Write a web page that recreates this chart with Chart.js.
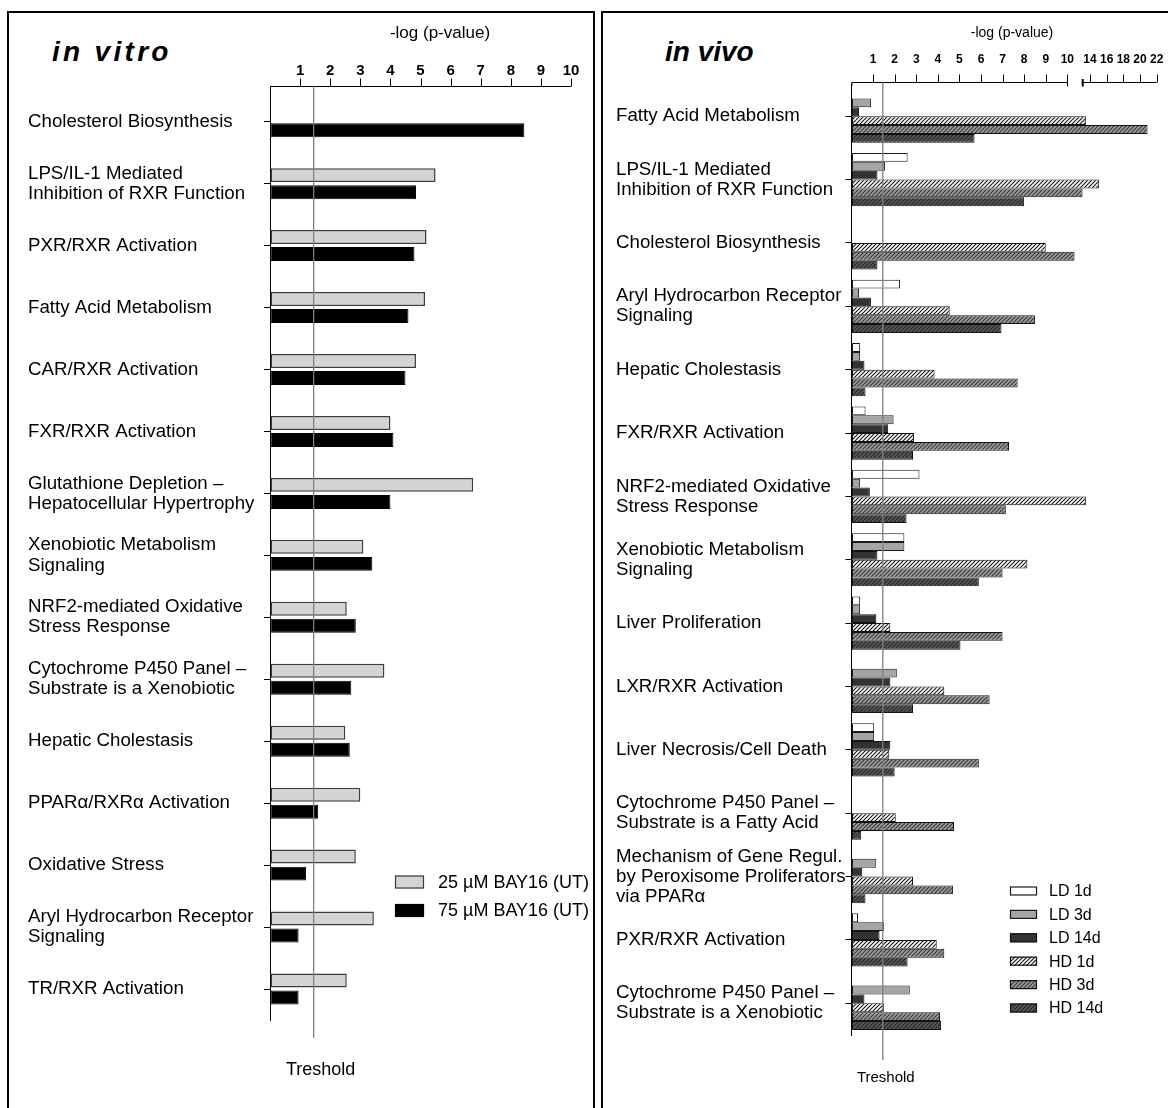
<!DOCTYPE html>
<html>
<head>
<meta charset="utf-8">
<script src="https://cdn.jsdelivr.net/npm/chart.js@4.4.1/dist/chart.umd.min.js"></script>
<style>
  html, body { margin: 0; padding: 0; background: #fff; width: 1168px; height: 1108px; overflow: hidden; }
  body { position: relative; font-family: "Liberation Sans", Arial, sans-serif; }
  .panel { position: absolute; border: 2px solid #000; box-sizing: border-box; }
  #panelVitro { left: 7px; top: 11px; width: 588px; height: 1200px; }
  #panelVivo { left: 601px; top: 11px; width: 600px; height: 1200px; }
  canvas { position: absolute; top: 0; }
  .panel-title { position: absolute; font-weight: bold; font-style: italic; font-size: 28px; line-height: 30px; }
</style>
</head>
<body>
<div class="panel" id="panelVitro"></div>
<div class="panel" id="panelVivo"></div>
<div class="panel-title" style="left:52px; top:37px; letter-spacing:3.3px;">in vitro</div>
<div class="panel-title" style="left:665px; top:37px;">in vivo</div>
<canvas id="chartVitro" width="600" height="1108" style="left:0px"></canvas>
<canvas id="chartVivo" width="568" height="1108" style="left:600px"></canvas>

<script>
// ---- in vitro data ----
const VITRO_PATHWAYS = [
  'Cholesterol Biosynthesis',
  ['LPS/IL-1 Mediated', 'Inhibition of RXR Function'],
  'PXR/RXR Activation',
  'Fatty Acid Metabolism',
  'CAR/RXR Activation',
  'FXR/RXR Activation',
  ['Glutathione Depletion –', 'Hepatocellular Hypertrophy'],
  ['Xenobiotic Metabolism', 'Signaling'],
  ['NRF2-mediated Oxidative', 'Stress Response'],
  ['Cytochrome P450 Panel –', 'Substrate is a Xenobiotic'],
  'Hepatic Cholestasis',
  'PPARα/RXRα Activation',
  'Oxidative Stress',
  ['Aryl Hydrocarbon Receptor', 'Signaling'],
  'TR/RXR Activation'
];
const BAY16_25UM = [0, 5.5, 5.2, 5.15, 4.85, 4.0, 6.75, 3.1, 2.55, 3.8, 2.5, 3.0, 2.85, 3.45, 2.55];
const BAY16_75UM = [8.45, 4.85, 4.8, 4.6, 4.5, 4.1, 4.0, 3.4, 2.85, 2.7, 2.65, 1.6, 1.2, 0.95, 0.95];
const VITRO_TICKS = [0, 1, 2, 3, 4, 5, 6, 7, 8, 9, 10];

// ---- in vivo data ----
const VIVO_PATHWAYS = [
  'Fatty Acid Metabolism',
  ['LPS/IL-1 Mediated', 'Inhibition of RXR Function'],
  'Cholesterol Biosynthesis',
  ['Aryl Hydrocarbon Receptor', 'Signaling'],
  'Hepatic Cholestasis',
  'FXR/RXR Activation',
  ['NRF2-mediated Oxidative', 'Stress Response'],
  ['Xenobiotic Metabolism', 'Signaling'],
  'Liver Proliferation',
  'LXR/RXR Activation',
  'Liver Necrosis/Cell Death',
  ['Cytochrome P450 Panel –', 'Substrate is a Fatty Acid'],
  ['Mechanism of Gene Regul.', 'by Peroxisome Proliferators', 'via PPARα'],
  'PXR/RXR Activation',
  ['Cytochrome P450 Panel –', 'Substrate is a Xenobiotic']
];
const LD_1D  = [0, 2.6, 0, 2.25, 0.4, 0.65, 3.15, 2.45, 0.4, 0, 1.05, 0, 0, 0.3, 0];
const LD_3D  = [0.9, 1.55, 0, 0.35, 0.4, 1.95, 0.4, 2.45, 0.4, 2.1, 1.05, 0, 1.15, 1.5, 2.7];
const LD_14D = [0.35, 1.2, 0, 0.9, 0.6, 1.7, 0.85, 1.2, 1.15, 1.8, 1.8, 0, 0.5, 1.3, 0.6];
const HD_1D  = [13.5, 15.1, 9.0, 4.55, 3.85, 2.9, 13.5, 8.15, 1.8, 4.3, 1.75, 2.05, 2.85, 3.95, 1.5];
const HD_3D  = [20.9, 13.1, 11.5, 8.5, 7.7, 7.3, 7.15, 7.0, 7.0, 6.4, 5.9, 4.75, 4.7, 4.3, 4.1];
const HD_14D = [5.7, 8.0, 1.2, 6.95, 0.65, 2.85, 2.55, 5.9, 5.05, 2.85, 2.0, 0.45, 0.65, 2.6, 4.15];
const VIVO_TICKS = [0, 1, 2, 3, 4, 5, 6, 7, 8, 9, 10, 14, 16, 18, 20, 22];
// broken value axis: 0-10 on the long segment, 13-22 on the short one
const VIVO_BREAK_VALUES = [0, 10, 13, 22];

const THRESHOLD = 1.45;
const AXIS_TITLE = '-log (p-value)';
const THRESHOLD_LABEL = 'Treshold';

Chart.defaults.font.family = '"Liberation Sans", Arial, sans-serif';
Chart.defaults.color = '#000';

// Linear scale whose value-to-pixel mapping is piecewise (for an axis break)
class BrokenLinearScale extends Chart.LinearScale {
  static id = 'brokenLinear';
  static defaults = Chart.LinearScale.defaults;
  _decimalFor(v) {
    const vals = this.options.breakValues, fr = this.options.breakFractions;
    const n = vals.length;
    let i = 1;
    while (i < n - 1 && v > vals[i]) i++;
    const t = (v - vals[i - 1]) / (vals[i] - vals[i - 1]);
    return fr[i - 1] + t * (fr[i] - fr[i - 1]);
  }
  getPixelForValue(value) {
    if (value === null || value === undefined || isNaN(value)) return NaN;
    return this.getPixelForDecimal(this._decimalFor(+value));
  }
  getValueForPixel(pixel) {
    const d = this.getDecimalForPixel(pixel);
    const vals = this.options.breakValues, fr = this.options.breakFractions;
    let i = 1;
    while (i < fr.length - 1 && d > fr[i]) i++;
    const t = (d - fr[i - 1]) / (fr[i] - fr[i - 1]);
    return vals[i - 1] + t * (vals[i] - vals[i - 1]);
  }
}
Chart.register(BrokenLinearScale);

function hatch(bg, fg) {
  const c = document.createElement('canvas');
  c.width = 4; c.height = 4;
  const g = c.getContext('2d');
  g.fillStyle = bg; g.fillRect(0, 0, 4, 4);
  g.strokeStyle = fg; g.lineWidth = 1.1;
  g.beginPath();
  g.moveTo(-1, 5); g.lineTo(5, -1);
  g.moveTo(-1, 1); g.lineTo(1, -1);
  g.moveTo(3, 5); g.lineTo(5, 3);
  g.stroke();
  return g.createPattern(c, 'repeat');
}

// top value axis (drawn a little above the plot), threshold line, labels and legend
const decorations = {
  id: 'decorations',
  afterDatasetsDraw(chart, args, o) {
    const { ctx, chartArea, scales: { x } } = chart;
    ctx.save();

    // value axis line and its tick marks
    const ay = Math.round(chartArea.top - o.axisGap) + 0.5;
    ctx.strokeStyle = '#000';
    ctx.lineWidth = 1;
    ctx.beginPath();
    ctx.moveTo(chartArea.left + 0.5, ay);
    ctx.lineTo(chartArea.left + 0.5, chartArea.top + 1);
    if (o.broken) {
      const p10 = x.getPixelForValue(VIVO_BREAK_VALUES[1]);
      const p13 = x.getPixelForValue(VIVO_BREAK_VALUES[2]);
      ctx.moveTo(chartArea.left, ay); ctx.lineTo(p10, ay);
      ctx.moveTo(p13, ay); ctx.lineTo(chartArea.right, ay);
      ctx.moveTo(Math.round(p10) + 0.5, ay); ctx.lineTo(Math.round(p10) + 0.5, ay + 4);
    } else {
      ctx.moveTo(chartArea.left, ay); ctx.lineTo(chartArea.right, ay);
    }
    x.ticks.forEach(t => {
      if (t.value === 0) return;
      const px = Math.round(x.getPixelForValue(t.value)) + 0.5;
      ctx.moveTo(px, ay);
      ctx.lineTo(px, ay - o.tickLen);
    });
    ctx.stroke();
    if (o.broken) {
      const p13 = x.getPixelForValue(VIVO_BREAK_VALUES[2]);
      ctx.lineWidth = 2;
      ctx.beginPath();
      ctx.moveTo(p13 + 1, ay - 3.5); ctx.lineTo(p13 + 1, ay + 4);
      ctx.stroke();
    }

    // threshold
    const tx = x.getPixelForValue(THRESHOLD);
    ctx.strokeStyle = '#7f7f7f';
    ctx.lineWidth = 1.3;
    ctx.beginPath();
    ctx.moveTo(tx, ay);
    ctx.lineTo(tx, chartArea.bottom + o.lineExtend);
    ctx.stroke();

    ctx.fillStyle = '#000';
    ctx.textAlign = 'center';
    ctx.textBaseline = 'middle';
    ctx.font = o.labelFont;
    ctx.fillText(THRESHOLD_LABEL, tx + o.labelDx, o.labelY);
    ctx.font = o.titleFont;
    ctx.fillText(AXIS_TITLE, o.titleX, o.titleY);

    // legend
    ctx.textAlign = 'left';
    ctx.font = o.legendFont;
    chart.data.datasets.forEach((ds, i) => {
      const cy = o.legendY + i * o.legendStep;
      const bx = o.legendX, bw = o.boxW, bh = o.boxH;
      ctx.fillStyle = ds.backgroundColor;
      ctx.fillRect(bx, cy - bh / 2, bw, bh);
      ctx.strokeStyle = ds.borderColor;
      ctx.lineWidth = 1.2;
      ctx.strokeRect(bx + 0.5, cy - bh / 2 + 0.5, bw - 1, bh - 1);
      ctx.fillStyle = '#000';
      ctx.fillText(ds.label, o.textX, cy + 1);
    });
    ctx.restore();
  }
};

const labelFont = { size: 18.7, lineHeight: 1.07 };

// ---------------- in vitro ----------------
new Chart(document.getElementById('chartVitro'), {
  type: 'bar',
  plugins: [decorations],
  data: {
    labels: VITRO_PATHWAYS,
    datasets: [
      { label: '25 µM BAY16 (UT)', data: BAY16_25UM, backgroundColor: '#d4d4d4', borderColor: '#3c3c3c', borderWidth: 1.5, borderSkipped: false },
      { label: '75 µM BAY16 (UT)', data: BAY16_75UM, backgroundColor: '#000000', borderColor: '#000000', borderWidth: 1, borderSkipped: false }
    ]
  },
  options: {
    indexAxis: 'y',
    responsive: false,
    animation: false,
    events: [],
    categoryPercentage: 0.55,
    barPercentage: 0.82,
    layout: { padding: { left: 28, right: 29, top: 0, bottom: 88 } },
    plugins: {
      legend: { display: false },
      tooltip: { enabled: false },
      decorations: {
        axisGap: 4.7, tickLen: 8,
        lineExtend: 18, labelDx: 7, labelY: 1070, labelFont: '18px "Liberation Sans", Arial',
        titleX: 440, titleY: 33, titleFont: '17px "Liberation Sans", Arial',
        legendX: 395, legendY: 882, legendStep: 28.5, boxW: 29, boxH: 13, textX: 438,
        legendFont: '18px "Liberation Sans", Arial', broken: false
      }
    },
    scales: {
      x: {
        type: 'linear', position: 'top', min: 0, max: 10,
        afterBuildTicks: s => { s.ticks = VITRO_TICKS.map(v => ({ value: v })); },
        afterFit: s => { s.height = 90.7; },
        // label centre sits half a line height above the plot edge
        ticks: { autoSkip: false, maxRotation: 0, padding: 0, font: { size: 15, weight: 'bold', lineHeight: '40px' },
                 callback: v => (v === 0 ? '' : String(v)) },
        grid: { drawOnChartArea: false, drawTicks: false },
        border: { display: false }
      },
      y: {
        type: 'category',
        afterFit: s => { s.width = 242; },
        ticks: { autoSkip: false, crossAlign: 'far', font: labelFont },
        grid: { offset: false, drawOnChartArea: false, tickLength: 6, tickColor: '#000' },
        border: { display: true, color: '#000', width: 1 }
      }
    }
  }
});

// ---------------- in vivo ----------------
new Chart(document.getElementById('chartVivo'), {
  type: 'bar',
  plugins: [decorations],
  data: {
    labels: VIVO_PATHWAYS,
    datasets: [
      { label: 'LD 1d',  data: LD_1D,  backgroundColor: '#ffffff', borderColor: '#1a1a1a' },
      { label: 'LD 3d',  data: LD_3D,  backgroundColor: '#a5a5a5', borderColor: '#1a1a1a' },
      { label: 'LD 14d', data: LD_14D, backgroundColor: '#333333', borderColor: '#111111' },
      { label: 'HD 1d',  data: HD_1D,  backgroundColor: hatch('#ffffff', '#111111'), borderColor: '#111111' },
      { label: 'HD 3d',  data: HD_3D,  backgroundColor: hatch('#9c9c9c', '#383838'), borderColor: '#111111' },
      { label: 'HD 14d', data: HD_14D, backgroundColor: hatch('#585858', '#262626'), borderColor: '#111111' }
    ]
  },
  options: {
    indexAxis: 'y',
    responsive: false,
    animation: false,
    events: [],
    categoryPercentage: 0.84,
    barPercentage: 1.0,
    datasets: { bar: { borderWidth: 1, borderSkipped: false } },
    layout: { padding: { left: 16, right: 11.3, top: 0, bottom: 73 } },
    plugins: {
      legend: { display: false },
      tooltip: { enabled: false },
      decorations: {
        axisGap: 2.5, tickLen: 8,
        lineExtend: 25, labelDx: 3, labelY: 1078, labelFont: '15px "Liberation Sans", Arial',
        titleX: 412, titleY: 33, titleFont: '14px "Liberation Sans", Arial',
        legendX: 410, legendY: 891, legendStep: 23.4, boxW: 27, boxH: 9, textX: 449,
        legendFont: '16px "Liberation Sans", Arial', broken: true
      }
    },
    scales: {
      x: {
        type: 'brokenLinear', position: 'top', min: 0, max: 22,
        breakValues: VIVO_BREAK_VALUES,
        breakFractions: [0, 0.7071, 0.7543, 1],
        afterBuildTicks: s => { s.ticks = VIVO_TICKS.map(v => ({ value: v })); },
        afterFit: s => { s.height = 84.5; },
        // label centre sits half a line height above the plot edge
        ticks: { autoSkip: false, maxRotation: 0, padding: 0, font: { size: 12, weight: 'bold', lineHeight: '49px' },
                 callback: v => (v === 0 ? '' : String(v)) },
        grid: { drawOnChartArea: false, drawTicks: false },
        border: { display: false }
      },
      y: {
        type: 'category',
        afterFit: s => { s.width = 235.5; },
        ticks: { autoSkip: false, crossAlign: 'far', font: labelFont },
        grid: { offset: false, drawOnChartArea: false, tickLength: 6, tickColor: '#000' },
        border: { display: true, color: '#000', width: 1 }
      }
    }
  }
});
</script>
</body>
</html>
